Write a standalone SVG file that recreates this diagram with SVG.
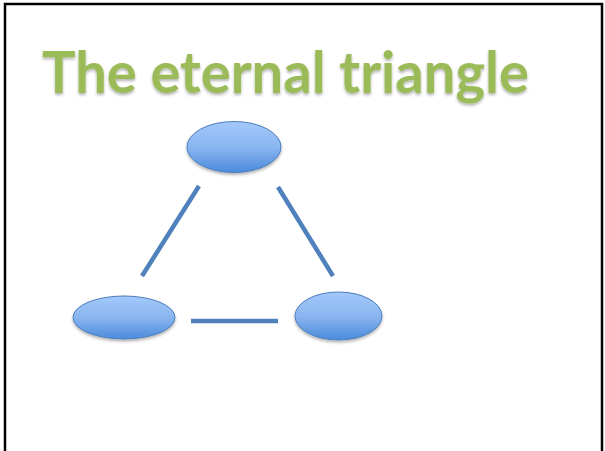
<svg xmlns="http://www.w3.org/2000/svg" width="605" height="451" viewBox="0 0 605 451">
<style>
.title{font-family:"Lato","Open Sans","Liberation Sans",sans-serif;font-weight:bold;font-size:58px;fill:#9BBB59;}
.node{fill:url(#g);stroke:#4A7EBB;stroke-width:1;}
.edge{stroke:#4F81BD;stroke-width:4.5;stroke-linecap:butt;fill:none;}
</style>
<defs>
<linearGradient id="g" x1="0" y1="0" x2="0" y2="1">
<stop offset="0" stop-color="#A3C8FA"/>
<stop offset="0.5" stop-color="#8AB6F0"/>
<stop offset="1" stop-color="#4B8BDB"/>
</linearGradient>
<filter id="sh" x="-20%" y="-20%" width="140%" height="150%">
<feDropShadow dx="0" dy="2" stdDeviation="1.5" flood-color="#000" flood-opacity="0.3"/>
</filter>
</defs>
<rect x="0" y="0" width="605" height="451" fill="#fff"/>
<rect x="5" y="4" width="597" height="460" fill="none" stroke="#000" stroke-width="2.5"/>
<text class="title" x="42" y="93" textLength="487" lengthAdjust="spacingAndGlyphs" filter="url(#sh)">The eternal triangle</text>
<g id="connectors">
<line class="edge" x1="199" y1="186" x2="142" y2="276"/>
<line class="edge" x1="278" y1="187" x2="333" y2="276"/>
<line class="edge" x1="191" y1="321" x2="278" y2="321"/>
</g>
<g id="node-top"><ellipse class="node" cx="234" cy="147" rx="47" ry="25.5" filter="url(#sh)"/></g>
<g id="node-left"><ellipse class="node" cx="124" cy="317.5" rx="51" ry="21.5" filter="url(#sh)"/></g>
<g id="node-right"><ellipse class="node" cx="338.5" cy="316" rx="43.5" ry="24" filter="url(#sh)"/></g>
</svg>
